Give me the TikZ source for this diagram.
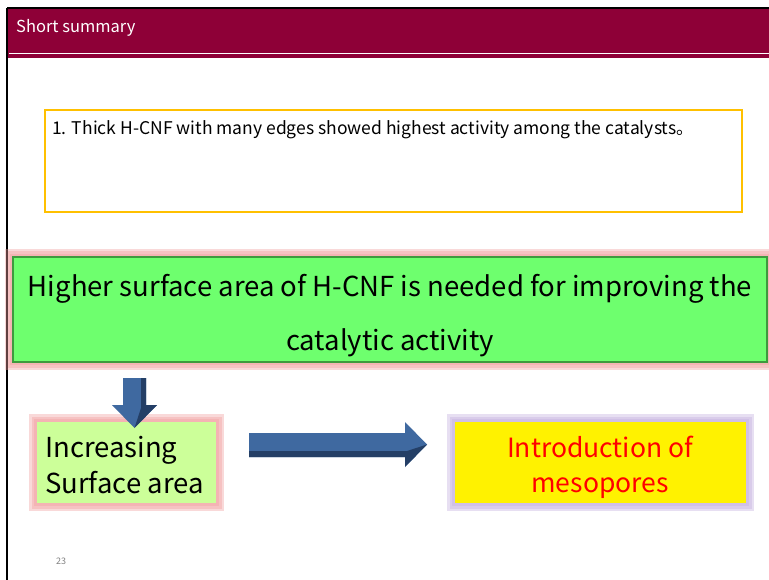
\documentclass[tikz,border=0pt]{standalone}
\usepackage{fontspec}
\setmainfont{Noto Sans CJK JP}
\usetikzlibrary{calc}
\definecolor{hdr}{HTML}{8E0037}
\definecolor{orng}{HTML}{FFC000}
\definecolor{grn}{HTML}{6EFF6E}
\definecolor{grnedge}{HTML}{3E9A3E}
\definecolor{lgrn}{HTML}{CCFF99}
\definecolor{pinkglow}{HTML}{F2A0A0}
\definecolor{purpglow}{HTML}{C4B0E0}
\definecolor{ablue}{HTML}{3F69A0}
\definecolor{dblue}{HTML}{243F66}
\tikzset{
  glowp/.style={draw=pinkglow, line width=#1, opacity=0.4},
  glowv/.style={draw=purpglow, line width=#1, opacity=0.4},
  bigtxt/.style={font=\fontsize{27.5}{30}\selectfont},
}
\begin{document}
\begin{tikzpicture}[x=1pt,y=-1pt]
\useasboundingbox (0,0) rectangle (769,580);
\fill[white] (0,0) rectangle (769,580);
% header
\fill[hdr] (7,8) rectangle (769,58);
\draw[white, line width=1pt] (9,54) -- (769,54);
\draw[black, line width=1.5pt] (7,8) -- (769,8);
\draw[black, line width=1.5pt] (7,8) -- (7,580);
\node[anchor=base west, text=white, font=\fontsize{16.5}{18}\selectfont, inner sep=0] (title) at (16,33) {Short summary};
% summary box
\draw[orng, line width=2pt] (45,110) rectangle (742,212);
\node[anchor=base west, inner sep=0, font=\fontsize{17.5}{20}\selectfont] (sumtxt) at (52,135) {1. Thick H-CNF with many edges showed highest activity among the catalysts。};
% green box
\foreach \w in {16,11,6} \draw[glowp=\w pt] (13,257) rectangle (767,362);
\draw[fill=grn, draw=grnedge, line width=1.5pt] (13,257) rectangle (767,362);
\node[anchor=base, inner sep=0, bigtxt] (g1) at (390,297) {Higher surface area of H-CNF is needed for improving the};
\node[anchor=base, inner sep=0, bigtxt] (g2) at (390,350) {catalytic activity};
% left box
\foreach \w in {16,11,6} \draw[glowp=\w pt] (37,422) rectangle (216,503);
\fill[lgrn] (37,422) rectangle (216,503);
\node[anchor=base west, inner sep=0, bigtxt] (l1) at (45,457) {Increasing};
\node[anchor=base west, inner sep=0, bigtxt] (l2) at (45,493) {Surface area};
% right box
\foreach \w in {16,11,6} \draw[glowv=\w pt] (455,422) rectangle (746,503);
\fill[yellow] (455,422) rectangle (746,503);
\node[anchor=base, inner sep=0, text=red, font=\fontsize{26.5}{30}\selectfont] (r1) at (600,457) {Introduction of};
\node[anchor=base, inner sep=0, text=red, font=\fontsize{26.5}{30}\selectfont] (r2) at (600,492) {mesopores};
% down arrow (green box -> left box)
\fill[ablue] (123,378) -- (146,378) -- (146,405) -- (157,405) -- (134.5,428) -- (112,405) -- (123,405) -- cycle;
\fill[dblue] (141,378) -- (146,378) -- (146,405) -- (157,405) -- (134.5,428) -- (141,408) -- cycle;
% right arrow (left box -> right box)
\fill[ablue] (249,433) -- (405,433) -- (405,422) -- (427,444.5) -- (405,467) -- (405,457) -- (249,457) -- cycle;
\fill[dblue] (249,451) -- (407,451) -- (427,444.5) -- (405,467) -- (405,457) -- (249,457) -- cycle;
% page number
\node[text=gray, font=\fontsize{9}{10}\selectfont, inner sep=0] (pg) at (61,561) {23};
\end{tikzpicture}
\end{document}
